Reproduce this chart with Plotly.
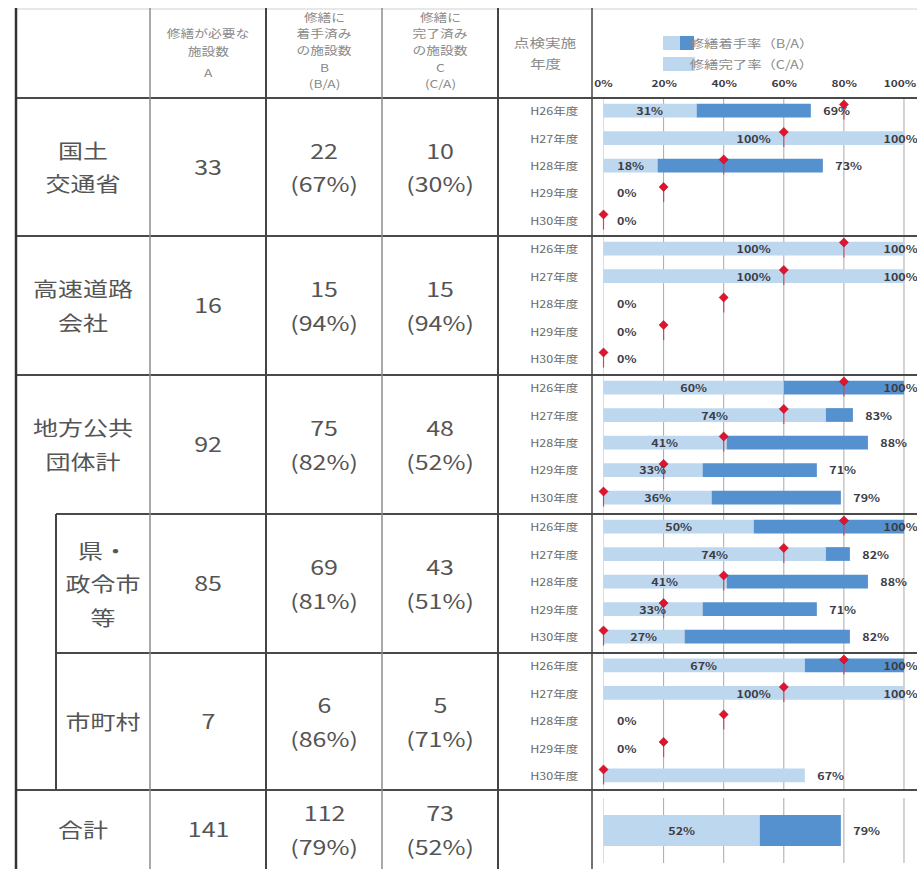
import plotly.graph_objects as go

W, H = 917, 869

# ---- table data -------------------------------------------------------
row_names = [["国土", "交通省"], ["高速道路", "会社"], ["地方公共", "団体計"],
             ["県・", "政令市", "等"], ["市町村"], ["合計"]]
need_A = [33, 16, 92, 85, 7, 141]      # 修繕が必要な施設数
started_B = [22, 15, 75, 69, 6, 112]   # 着手済み
done_C = [10, 15, 48, 43, 5, 73]       # 完了済み

# ---- chart data (per inspection year, %) ------------------------------
years = ["H26年度", "H27年度", "H28年度", "H29年度", "H30年度"]
start_rate = [            # 修繕着手率 B/A
    [69, 100, 73, 0, 0],
    [100, 100, 0, 0, 0],
    [100, 83, 88, 71, 79],
    [100, 82, 88, 71, 82],
    [100, 100, 0, 0, 67],
]
done_rate = [             # 修繕完了率 C/A
    [31, 100, 18, 0, 0],
    [100, 100, 0, 0, 0],
    [60, 74, 41, 33, 36],
    [50, 74, 41, 33, 27],
    [67, 100, 0, 0, 67],
]
cycle_mark = [80, 60, 40, 20, 0]      # red reference points per year
hide_inner = {(4, 4)}                  # in-bar labels not printed

tick_vals = [0, 20, 40, 60, 80, 100]
tick_labels = ["0%", "20%", "40%", "60%", "80%", "100%"]
legend_labels = ["修繕着手率（B/A）", "修繕完了率（C/A）"]

# ---- styling ----------------------------------------------------------
LIGHT = "#bdd7ee"
DARK = "#5590cf"
TXT = "#555555"
HEAD = "#8a8a8a"
LBL = "#3c3c46"
FONT = "Noto Sans CJK JP"

# table grid (pixel layout)
row_edges = [98, 236, 375, 514, 653, 790, 869]
name_x = [83, 83, 83, 103, 103, 83]
col_A, col_B, col_C = 208, 324, 440
chart_left = 592
PITCH = 27.5        # pixel distance between year rows
FIRST = 12.5        # first bar centre below the row top
END_CAP = 93.8      # right-most start of an end label, keeps it on the page


def py(p):
    return 1 - p / H


def px(p):
    return p / W


fig = go.Figure()
annotations = []
shapes = []


def text(x, y, s, size, color=TXT, bold=False, xanchor="center", xref="paper"):
    annotations.append(dict(
        x=x if xref != "paper" else px(x), y=py(y), xref=xref, yref="paper",
        text=f"<b>{s}</b>" if bold else s, showarrow=False,
        xanchor=xanchor, yanchor="middle",
        font=dict(family=FONT, size=size, color=color)))


def hline(y, x0, x1, color="#4a4a4a", width=2):
    shapes.append(dict(type="line", xref="paper", yref="paper",
                       x0=px(x0), x1=px(x1), y0=py(y), y1=py(y),
                       line=dict(color=color, width=width)))


def vline(x, y0, y1, color="#4a4a4a", width=2):
    shapes.append(dict(type="line", xref="paper", yref="paper",
                       x0=px(x), x1=px(x), y0=py(y0), y1=py(y1),
                       line=dict(color=color, width=width)))


# ---- chart x axis: 0% at 603.5px, 100% at 904px ------------------------
x_lo, x_hi = -3.83, 104.33
layout_axes = dict(
    xaxis=dict(domain=[px(chart_left), 1], range=[x_lo, x_hi], showgrid=False,
               zeroline=False, showticklabels=False, showline=False,
               fixedrange=True),
)

# gridlines per row band
bands = [(row_edges[i], row_edges[i + 1]) for i in range(5)] + [(798, 863)]
for (t, b) in bands:
    for v in tick_vals:
        shapes.append(dict(type="line", xref="x", yref="paper", x0=v, x1=v,
                           y0=py(t), y1=py(b), layer="below",
                           line=dict(color="#ead6d6" if v == 0 else "#a8a8a8",
                                     width=1)))

# ---- year groups ------------------------------------------------------
for g in range(5):
    top, bot = row_edges[g], row_edges[g + 1]
    ax = "y" if g == 0 else f"y{g + 1}"
    key = "yaxis" if g == 0 else f"yaxis{g + 1}"
    layout_axes[key] = dict(
        domain=[py(bot), py(top)], anchor="x",
        range=[(bot - top - FIRST) / PITCH, -FIRST / PITCH],
        showgrid=False, zeroline=False, showticklabels=False,
        showline=False, fixedrange=True)
    pos = list(range(len(years)))
    c = done_rate[g]
    b = start_rate[g]
    fig.add_trace(go.Bar(x=c, y=pos, orientation="h", width=0.5,
                         marker=dict(color=LIGHT, line=dict(width=0)),
                         xaxis="x", yaxis=ax, hoverinfo="skip",
                         showlegend=False))
    fig.add_trace(go.Bar(x=[bb - cc for bb, cc in zip(b, c)], base=c, y=pos,
                         orientation="h", width=0.5,
                         marker=dict(color=DARK, line=dict(width=0)),
                         xaxis="x", yaxis=ax, hoverinfo="skip",
                         showlegend=False))
    fig.add_trace(go.Scatter(
        x=cycle_mark, y=[p - 0.22 for p in pos], mode="markers",
        marker=dict(symbol="diamond", size=7, color="#e0142c",
                    line=dict(color="#a0001a", width=0.5)),
        error_y=dict(type="data", symmetric=False, array=[0.55] * 5,
                     arrayminus=[0] * 5, color="#d04858", thickness=1.2,
                     width=0),
        xaxis="x", yaxis=ax, hoverinfo="skip", showlegend=False))

    for i, yr in enumerate(years):
        yc = top + FIRST + PITCH * i
        text(554, yc, yr, 10, color="#6a6a6a")
        if c[i] > 0 and (g, i) not in hide_inner:
            text(c[i] / 2, yc, f"{c[i]}%", 10, LBL, bold=True, xref="x")
        text(min(b[i] + 4.5, END_CAP), yc, f"{b[i]}%", 10, LBL, bold=True,
             xref="x", xanchor="left")

# ---- total row --------------------------------------------------------
tot_c = round(done_C[-1] / need_A[-1] * 100)
tot_b = round(started_B[-1] / need_A[-1] * 100)
layout_axes["yaxis6"] = dict(domain=[py(863), py(798)], anchor="x",
                             range=[0.5, -0.5], showgrid=False, zeroline=False,
                             showticklabels=False, showline=False,
                             fixedrange=True)
fig.add_trace(go.Bar(x=[tot_c], y=[0], orientation="h", width=0.48,
                     marker=dict(color=LIGHT, line=dict(width=0)),
                     xaxis="x", yaxis="y6", hoverinfo="skip", showlegend=False))
fig.add_trace(go.Bar(x=[tot_b - tot_c], base=[tot_c], y=[0], orientation="h",
                     width=0.48, marker=dict(color=DARK, line=dict(width=0)),
                     xaxis="x", yaxis="y6", hoverinfo="skip", showlegend=False))
text(tot_c / 2, 830.5, f"{tot_c}%", 10, LBL, bold=True, xref="x")
text(min(tot_b + 4.5, END_CAP), 830.5, f"{tot_b}%", 10, LBL, bold=True,
     xref="x", xanchor="left")

# ---- chart header: legend and percentage scale ------------------------
shapes.append(dict(type="rect", xref="paper", yref="paper", x0=px(663),
                   x1=px(680), y0=py(50), y1=py(36), fillcolor=LIGHT,
                   line=dict(width=0)))
shapes.append(dict(type="rect", xref="paper", yref="paper", x0=px(680),
                   x1=px(694), y0=py(50), y1=py(36), fillcolor=DARK,
                   line=dict(width=0)))
shapes.append(dict(type="rect", xref="paper", yref="paper", x0=px(663),
                   x1=px(695), y0=py(71), y1=py(57), fillcolor=LIGHT,
                   line=dict(width=0)))
text(700, 43, legend_labels[0], 11.5, HEAD, xanchor="left")
text(700, 64, legend_labels[1], 11.5, HEAD, xanchor="left")
for v, lab in zip(tick_vals, tick_labels):
    # the last scale label is kept inside the page edge
    if v == tick_vals[-1]:
        text(x_hi - 0.7, 83, lab, 9.5, LBL, bold=True, xref="x",
             xanchor="right")
    else:
        text(v, 83, lab, 9.5, LBL, bold=True, xref="x")

# ---- table header -----------------------------------------------------
head_cols = [
    (col_A, ["修繕が必要な", "施設数", "A"], [33, 51, 72]),
    (col_B, ["修繕に", "着手済み", "の施設数", "B", "(B/A)"], [17, 33, 50, 67, 83]),
    (col_C, ["修繕に", "完了済み", "の施設数", "C", "(C/A)"], [17, 33, 50, 67, 83]),
    (545, ["点検実施", "年度"], [43, 63]),
]
for x, lines, ys in head_cols:
    for s, y in zip(lines, ys):
        text(x, y, s, 12.5 if x == 545 else 11, HEAD)

# ---- table body -------------------------------------------------------
for r in range(6):
    mid = (row_edges[r] + row_edges[r + 1]) / 2
    names = row_names[r]
    n = len(names)
    gap = 34 if n == 2 else 33.5
    for k, s in enumerate(names):
        text(name_x[r], mid + (k - (n - 1) / 2) * gap, s, 20)
    text(col_A, mid - 1, str(need_A[r]), 20)
    pb = round(started_B[r] / need_A[r] * 100)
    pc = round(done_C[r] / need_A[r] * 100)
    text(col_B, mid - 17, str(started_B[r]), 20)
    text(col_B, mid + 17, f"({pb}%)", 20)
    text(col_C, mid - 17, str(done_C[r]), 20)
    text(col_C, mid + 17, f"({pc}%)", 20)

# ---- table rules ------------------------------------------------------
hline(9, 16, W, color="#d0d0d0", width=1)
hline(98, 16, W)
hline(236, 16, W)
hline(375, 16, W)
hline(514, 56, W)
hline(653, 56, W)
hline(790, 16, W)
vline(16, 8, H, color="#333333", width=2.5)
vline(56, 514, 790, color="#444444", width=2)
vline(150, 8, H, color="#8c8c8c", width=1.5)
vline(266, 8, H, color="#444444", width=2)
vline(382, 8, H, color="#8c8c8c", width=1.5)
vline(498, 8, H, color="#444444", width=2)
vline(chart_left, 8, H, color="#444444", width=1.5)

fig.update_layout(
    width=W, height=H, margin=dict(l=0, r=0, t=0, b=0),
    paper_bgcolor="white", plot_bgcolor="rgba(0,0,0,0)",
    barmode="overlay", showlegend=False,
    annotations=annotations, shapes=shapes, **layout_axes)

# widen glyphs horizontally, as in the printed table
wide_text = """
var st = document.createElement('style');
st.textContent = '.annotation-text{transform-box:fill-box;transform-origin:center;transform:scaleX(1.25);}';
document.head.appendChild(st);
"""
fig.write_html("out.html", post_script=wide_text,
               config={"displayModeBar": False, "staticPlot": True})
